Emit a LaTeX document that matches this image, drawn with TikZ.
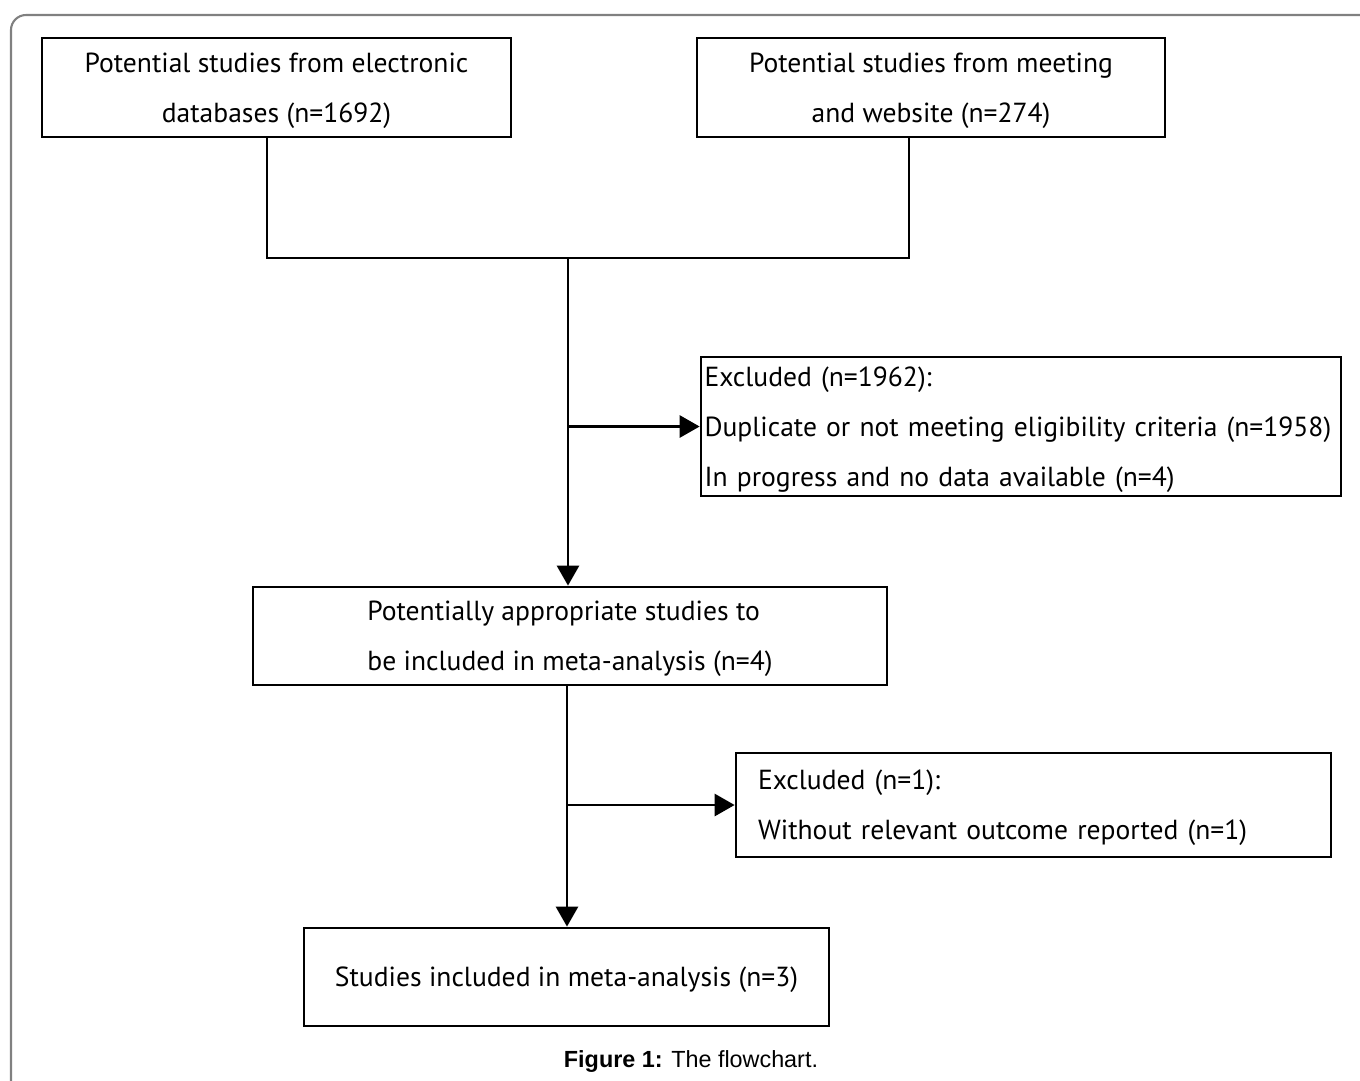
\documentclass[tikz,border=0pt]{standalone}
\usepackage{fontspec}
\setmainfont{PT Sans}
\newfontfamily\captionfont{Liberation Sans}
\usetikzlibrary{arrows.meta}

\begin{document}
\begin{tikzpicture}[x=0.02cm, y=-0.02cm,
    studybox/.style={draw, line width=1.6pt, inner sep=0pt, font=\fontsize{15.7}{28.45}\selectfont},
    flow/.style={line width=1.6pt},
    flowarrow/.style={line width=1.6pt, -{Triangle[width=0.44cm, length=0.4cm]}}]
    \useasboundingbox (0, 0) rectangle (1360, 1080);
    % outer frame
    \draw[gray, line width=1.2pt] (11, 1090) -- (11, 30) arc[start angle=180, end angle=90, radius=0.3cm] -- (1370, 15);
    % boxes
    \node[studybox, text depth=0pt, minimum width=9.38cm, minimum height=1.98cm, align=center] (electronic) at (276.5, 87.5)
        {Potential studies from electronic\\databases (n=1692)};
    \node[studybox, text depth=0pt, minimum width=9.36cm, minimum height=1.98cm, align=center] (meeting) at (931, 87.5)
        {Potential studies from meeting\\and website (n=274)};
    \node[studybox, text depth=56.9pt, minimum width=12.8cm, minimum height=2.78cm, text width=12.66cm, align=left] (excluded1) at (1021, 426.5)
        {Excluded (n=1962):\\Duplicate or not meeting eligibility criteria (n=1958)\\In progress and no data available (n=4)};
    \node[studybox, text depth=0pt, minimum width=12.68cm, minimum height=1.96cm, align=left] (appropriate) at (570, 636)
        {Potentially appropriate studies to\\be included in meta-analysis (n=4)};
    \node[studybox, text depth=28.45pt, minimum width=11.9cm, minimum height=2.08cm, text width=11.02cm, align=left] (excluded2) at (1033.5, 805)
        {Excluded (n=1):\\Without relevant outcome reported (n=1)};
    \node[studybox, text depth=0pt, minimum width=10.5cm, minimum height=1.96cm, align=center] (included) at (566.5, 977)
        {Studies included in meta-analysis (n=3)};
    % junctions
    \coordinate (joinA) at (267, 258);
    \coordinate (joinB) at (909, 258);
    \coordinate (joinM) at (568, 258);
    \coordinate (split1) at (568, 426.5);
    \coordinate (split2) at (567, 805);
    % connectors
    \draw[flow] (joinA |- electronic.south) -- (joinA) -- (joinB) -- (joinB |- meeting.south);
    \draw[flowarrow] (joinM) -- (joinM |- appropriate.north);
    \draw[flowarrow] (split1) -- (excluded1.west);
    \draw[flowarrow] (split2 |- appropriate.south) -- (split2 |- included.north);
    \draw[flowarrow] (split2) -- (excluded2.west);
    % caption
    \node[font=\captionfont\fontsize{13.3}{15}\selectfont] (caption) at (691, 1061) {\textbf{Figure 1:} The flowchart.};
\end{tikzpicture}
\end{document}
